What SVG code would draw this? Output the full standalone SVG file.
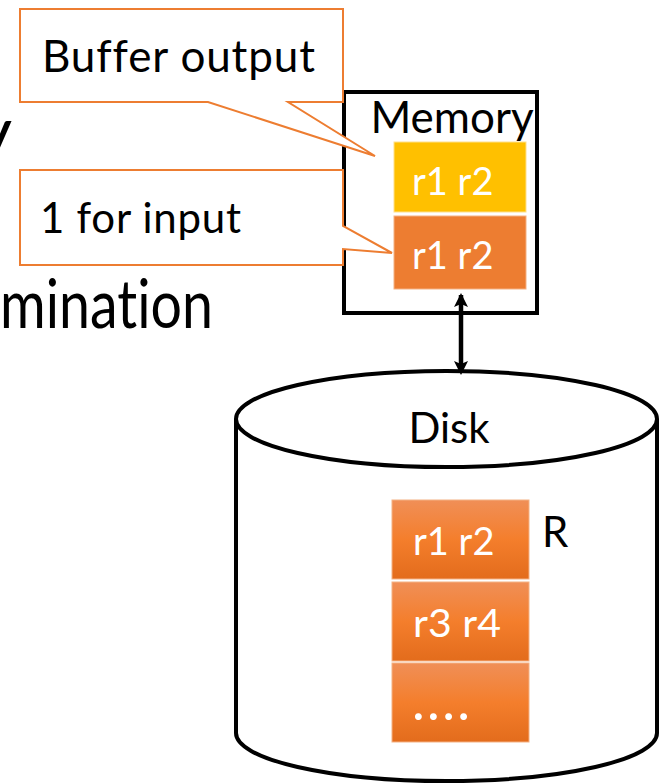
<svg xmlns="http://www.w3.org/2000/svg" width="660" height="783" viewBox="0 0 660 783">
  <style>
    .txt { font-family: Lato, "Open Sans", "Liberation Sans", sans-serif; fill: #000; font-variant-ligatures: none; }
    .wtxt { font-family: Lato, "Open Sans", "Liberation Sans", sans-serif; fill: #fff; font-variant-ligatures: none; }
    .callout { fill: #fff; stroke: #ED7D31; stroke-width: 2; stroke-linejoin: miter; }
    .black { fill: #fff; stroke: #000; stroke-width: 4; }
    .dblk { fill: url(#og); stroke: #F4B183; stroke-width: 1; }
  </style>
  <defs>
    <linearGradient id="og" x1="0" y1="0" x2="0" y2="1">
      <stop offset="0" stop-color="#F08F57"/>
      <stop offset="0.5" stop-color="#F47E2C"/>
      <stop offset="1" stop-color="#E36C1C"/>
    </linearGradient>
    <marker id="ah" viewBox="0 0 14 14" refX="12" refY="7" markerWidth="14" markerHeight="14" markerUnits="userSpaceOnUse" orient="auto-start-reverse">
      <path d="M0,0 L14,7 L0,14 L3,7 Z" fill="#000"/>
    </marker>
  </defs>

  <g id="background-text">
    <text class="txt" x="12" y="156" font-size="70" text-anchor="end">y</text>
    <text class="txt" x="0" y="328" font-size="68" textLength="213" lengthAdjust="spacingAndGlyphs">mination</text>
  </g>

  <g id="memory">
    <rect class="black" x="344" y="92" width="193" height="221"/>
    <text class="txt" x="452" y="133" font-size="44" text-anchor="middle">Memory</text>
  </g>

  <g id="mem-output-buffer">
    <rect x="394" y="142" width="132" height="70" fill="#FFC000" stroke="#FFE08A" stroke-width="1"/>
    <text class="wtxt" x="412" y="195" font-size="38">r1 r2</text>
  </g>

  <g id="mem-input-buffer">
    <rect x="394" y="216" width="132" height="73" fill="#ED7D31" stroke="#F4B183" stroke-width="1"/>
    <text class="wtxt" x="412" y="269" font-size="38">r1 r2</text>
  </g>

  <g id="callout-buffer-output">
    <path class="callout" d="M20,9 L343,9 L343,102 L288,102 L375,156 L208,102 L20,102 Z"/>
    <text class="txt" x="42" y="72" font-size="44" textLength="273" lengthAdjust="spacing">Buffer output</text>
  </g>

  <g id="callout-input">
    <path class="callout" d="M20,170 L343,170 L343,226 L392,253 L343,249 L343,265 L20,265 Z"/>
    <text class="txt" x="40" y="233" font-size="42" textLength="201" lengthAdjust="spacing">1 for input</text>
  </g>

  <g id="disk">
    <path class="black" d="M236,419 L236,733 A210.5,48 0 0 0 657,733 L657,419"/>
    <ellipse class="black" cx="446.5" cy="419" rx="210.5" ry="48"/>
    <text class="txt" x="449" y="443" font-size="42" text-anchor="middle">Disk</text>
  </g>

  <g id="disk-block-1">
    <rect class="dblk" x="392" y="500" width="137" height="79"/>
    <text class="wtxt" x="413" y="555" font-size="38">r1 r2</text>
  </g>
  <g id="disk-block-2">
    <rect class="dblk" x="392" y="582" width="137" height="79"/>
    <text class="wtxt" x="413" y="637" font-size="38" textLength="88" lengthAdjust="spacingAndGlyphs">r3 r4</text>
  </g>
  <g id="disk-block-3">
    <rect class="dblk" x="392" y="663" width="137" height="79"/>
    <text class="wtxt" x="412" y="720" font-size="54" textLength="58" lengthAdjust="spacing">....</text>
  </g>

  <g id="label-R">
    <text class="txt" x="542" y="547" font-size="42">R</text>
  </g>

  <g id="connectors">
    <line x1="461" y1="295" x2="461" y2="373" stroke="#000" stroke-width="4.5" marker-start="url(#ah)" marker-end="url(#ah)"/>
  </g>
</svg>
